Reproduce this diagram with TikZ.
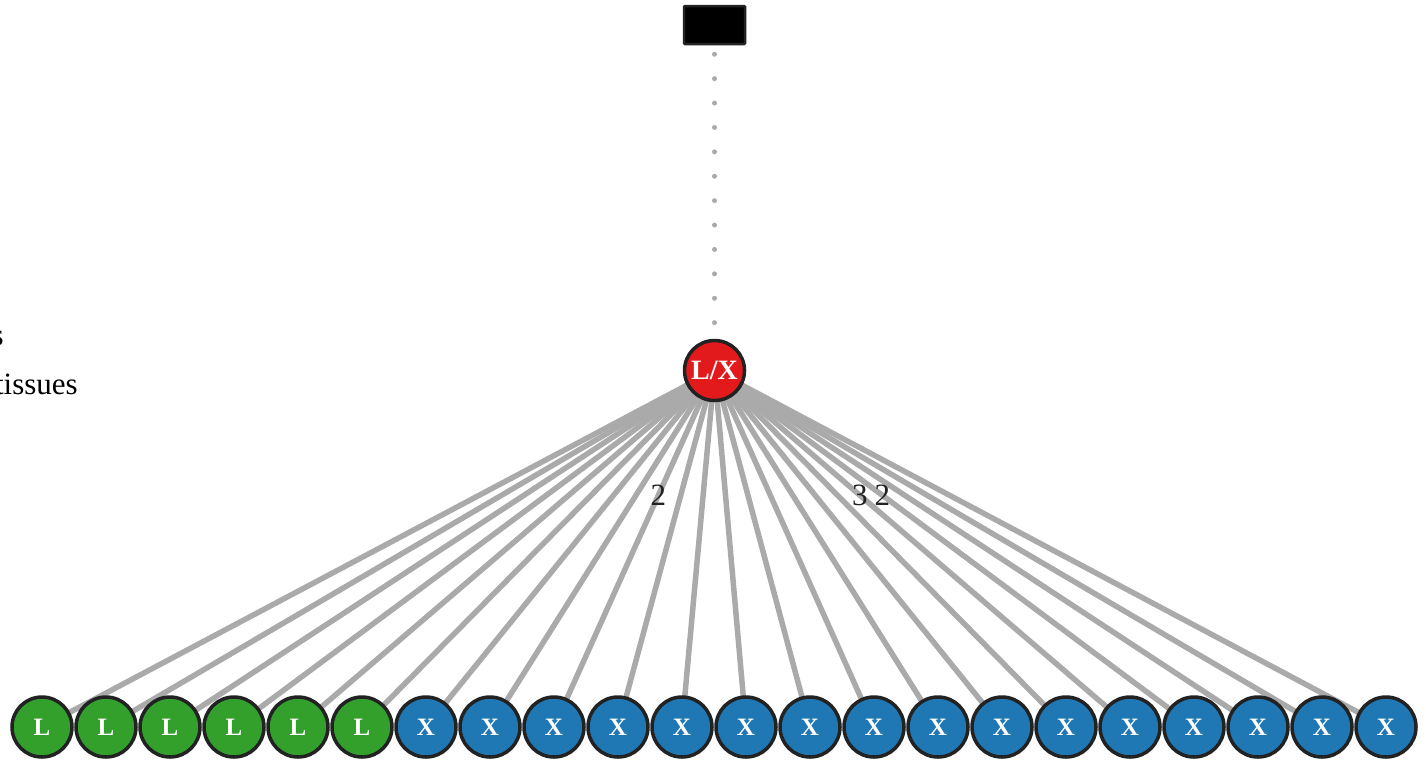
\documentclass[tikz,border=0pt]{standalone}
\usepackage{fontspec}
\setmainfont{Liberation Serif}
\usetikzlibrary{backgrounds}
\definecolor{gL}{HTML}{33A02C}
\definecolor{bX}{HTML}{1F78B4}
\definecolor{rLX}{HTML}{E31A1C}
\definecolor{edgegray}{HTML}{AAAAAA}
\definecolor{rim}{HTML}{222222}
\tikzset{
  leaf/.style={circle, draw=rim, line width=3.5pt, minimum size=60pt, inner sep=0pt,
    text=white, font=\bfseries\fontsize{25}{25}\selectfont},
  lnode/.style={leaf, fill=gL},
  xnode/.style={leaf, fill=bX},
  hub/.style={leaf, fill=rLX, font=\bfseries\fontsize{28}{28}\selectfont},
  rootbox/.style={rectangle, fill=black, draw=rim, line width=2.5pt, rounded corners=1pt, minimum width=61pt, minimum height=38pt, inner sep=0pt},
  edge/.style={draw=edgegray, line width=5.5pt},
  dotline/.style={draw=edgegray, line width=5pt, line cap=round, dash pattern=on 0pt off 24.4pt},
  lbl/.style={font=\fontsize{31}{31}\selectfont, text=rim, inner sep=0pt},
  legendtxt/.style={font=\fontsize{31}{31}\selectfont, text=black, inner sep=0pt}
}
\begin{document}
\begin{tikzpicture}[x=1pt,y=-1pt]
\useasboundingbox (0,0) rectangle (1426,761);
\node[rootbox] (root) at (714.5,25) {};
\node[hub] (lx) at (714.5,370.5) {L/X};
\foreach \i in {0,...,21} {
  \pgfmathsetmacro{\xx}{42+64*\i}
  \ifnum\i<6
    \node[lnode] (c\i) at (\xx,727) {L};
  \else
    \node[xnode] (c\i) at (\xx,727) {X};
  \fi
}
\begin{scope}[on background layer]
  \draw[dotline, shorten <=9pt] (root.south) -- (lx.north);
  \foreach \i in {0,...,21} {
    \draw[edge] (lx.center) -- (c\i.center);
  }
  \path (lx.center) -- (c8.center) node[lbl, pos=0.35] (e8) {2};
  \path (lx.center) -- (c17.center) node[lbl, pos=0.35] (e17) {3};
  \path (lx.center) -- (c18.center) node[lbl, pos=0.35] (e18) {2};
\end{scope}
\node[legendtxt, anchor=base east] (leg1) at (4,345) {s};
\node[legendtxt, anchor=base east] (leg2) at (78,394) {tissues};
\end{tikzpicture}
\end{document}
